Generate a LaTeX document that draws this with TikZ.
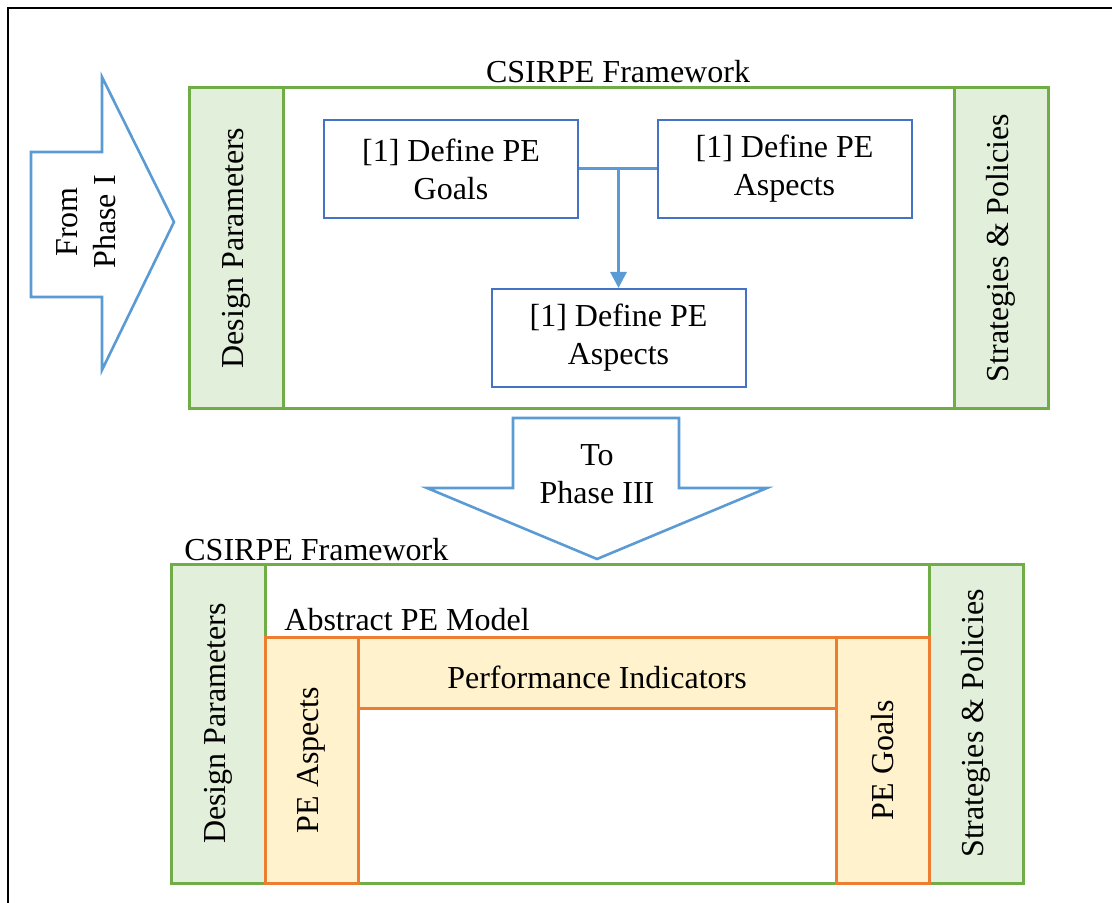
\documentclass[tikz,border=0pt]{standalone}
\usepackage{fontspec}
\setmainfont{Liberation Serif}
\usetikzlibrary{arrows.meta}
\definecolor{frgreen}{HTML}{70AD47}
\definecolor{lightgreen}{HTML}{E2EFDA}
\definecolor{boxblue}{HTML}{4472C4}
\definecolor{arrblue}{HTML}{5B9BD5}
\definecolor{modorange}{HTML}{ED7D31}
\definecolor{lightorange}{HTML}{FFF2CC}
\begin{document}
\begin{tikzpicture}[x=0.5pt,y=-0.5pt,
		every node/.style={font=\fontsize{16}{19}\selectfont,inner sep=0pt,align=center},
		frame/.style={draw=frgreen,line width=1.5pt,minimum width=#1,minimum height=160pt},
		side/.style={draw=frgreen,fill=lightgreen,line width=1.5pt,minimum width=47pt,minimum height=160pt},
		defbox/.style={draw=boxblue,line width=1pt,minimum width=127pt,minimum height=49pt},
		pebox/.style={draw=modorange,fill=lightorange,line width=1.5pt},
		blockarrow/.style={draw=arrblue,line width=1.3pt,line join=miter}]
	\useasboundingbox (0,0) rectangle (1112,903);
	\draw[line width=1pt] (8,903) -- (8,8) -- (1112,8);
	% from phase I
	\draw[blockarrow] (31,152) -- (102,152) -- (102,77) -- (174,222) -- (102,370) -- (102,297) -- (31,297) -- cycle;
	\node[rotate=90] (fromI) at (86,222) {From\\Phase I};
	% upper framework
	\node[frame=429.5pt] (fw1) at (618.5,248) {};
	\node[anchor=base] (fw1title) at (618,83) {CSIRPE Framework};
	\node[side,rotate=90,minimum width=160pt,minimum height=47pt] (dp1) at (236,248) {Design Parameters};
	\node[side,rotate=90,minimum width=160pt,minimum height=47pt] (sp1) at (1001,248) {Strategies \& Policies};
	\node[defbox] (goals) at (451,169) {[1] Define PE\\Goals};
	\node[defbox] (aspects) at (784.5,169) {[1] Define PE\\Aspects};
	\node[defbox] (aspects2) at (618.5,338) {[1] Define PE\\Aspects};
	\coordinate (join) at (aspects2.north |- goals.east);
	\draw[arrblue,line width=1.5pt] (goals.east) -- (aspects.west);
	\draw[arrblue,line width=1.5pt,-{Triangle[length=8pt,width=8pt]}] (join) -- (aspects2.north);
	% to phase III
	\draw[blockarrow] (513,418) -- (679,418) -- (679,488) -- (767,488) -- (597,559) -- (427,488) -- (513,488) -- cycle;
	\node (toIII) at (597,474) {To\\Phase III};
	% lower framework
	\node[frame=426pt,minimum height=159.5pt] (fw2) at (597,723.5) {};
	\node[anchor=base west] (fw2title) at (184,560) {CSIRPE Framework};
	\node[side,rotate=90,minimum width=159.5pt,minimum height=47pt] (dp2) at (218,723.5) {Design Parameters};
	\node[side,rotate=90,minimum width=159.5pt,minimum height=47pt] (sp2) at (976,723.5) {Strategies \& Policies};
	\node[anchor=base west] (model) at (284,630) {Abstract PE Model};
	\node[pebox,rotate=90,minimum width=123pt,minimum height=46.5pt] (peasp) at (311.5,760) {PE Aspects};
	\node[pebox,rotate=90,minimum width=123pt,minimum height=46.5pt] (pegoal) at (882.5,760) {PE Goals};
	\node[pebox,minimum width=239pt,minimum height=35.5pt,text height=16pt,text depth=0pt] (pind) at (597,672.5) {Performance Indicators};
\end{tikzpicture}
\end{document}
